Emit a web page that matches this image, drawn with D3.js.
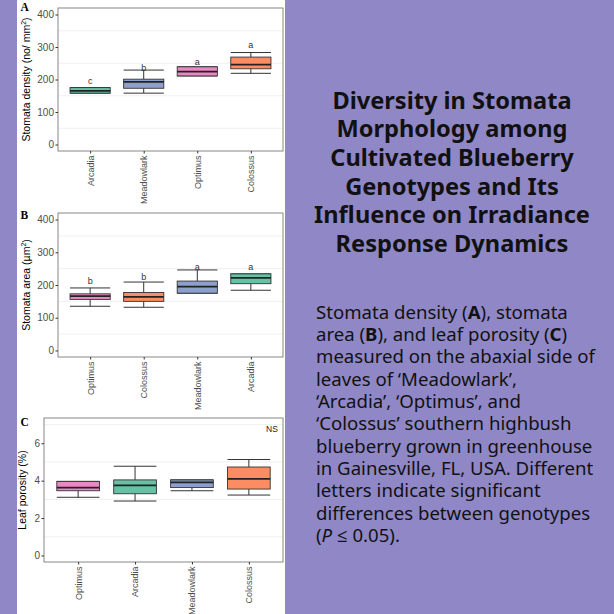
<!DOCTYPE html>
<html><head><meta charset="utf-8">
<script src="https://cdn.jsdelivr.net/npm/d3@7"></script>
<style>html,body{margin:0;padding:0;background:#9088c6;}svg{display:block;}</style>
</head><body>
<svg id="c" width="614" height="614"></svg>
<script>
// ---------- data ----------
const catsA = ["Arcadia","Meadowlark","Optimus","Colossus"];
const loA  = [158, 158, 211, 219];
const q1A  = [158, 173, 211, 233];
const medA = [165, 193, 224, 246];
const q3A  = [175, 201, 239, 269];
const hiA  = [175, 229, 239, 283];
const letA = ["c","b","a","a"];
const letYA = [196, 236, 254, 305];
const ticksA = [0,100,200,300,400];

const catsB = ["Optimus","Colossus","Meadowlark","Arcadia"];
const loB  = [135, 132, 175, 184];
const q1B  = [156, 150, 175, 204];
const medB = [166, 164, 195, 222];
const q3B  = [173, 177, 212, 234];
const hiB  = [191, 209, 246, 234];
const letB = ["b","b","a","a"];
const letYB = [211, 225, 256, 256];
const ticksB = [0,100,200,300,400];

const catsC = ["Optimus","Arcadia","Meadowlark","Colossus"];
const loC  = [3.11, 2.91, 3.46, 3.23];
const q1C  = [3.46, 3.30, 3.63, 3.55];
const medC = [3.63, 3.75, 3.91, 4.09];
const q3C  = [3.96, 4.04, 4.04, 4.73];
const hiC  = [3.96, 4.77, 4.04, 5.13];
const ticksC = [0,2,4,6];

const genotypeColors = {Arcadia:"#66c2a5", Colossus:"#fc8d62", Meadowlark:"#8da0cb", Optimus:"#e78ac3"};

const titleLines = ["Diversity in Stomata","Morphology among","Cultivated Blueberry","Genotypes and Its","Influence on Irradiance","Response Dynamics"];

// ---------- drawing ----------
const svg = d3.select("#c");
svg.append("rect").attr("x",0).attr("y",0).attr("width",614).attr("height",614).attr("fill","#9088c6");
svg.append("rect").attr("x",17).attr("y",0).attr("width",268).attr("height",614).attr("fill","#ffffff");

function panel(opt){
  const {x0,x1,y0,y1,domain,cats,lo,q1,med,q3,hi,letters,letY,ticks,minor,title,label,labelY} = opt;
  const g = svg.append("g");
  // ggplot discrete expansion of 0.6 category units on each side
  const xs = d3.scalePoint().domain(cats).range([x0 + (x1-x0)*0.6/4.2, x1 - (x1-x0)*0.6/4.2]);
  const unit = (x1-x0)/4.2;
  const bw = unit*0.75;
  const y = d3.scaleLinear().domain(domain).range([y1,y0]);
  g.selectAll(".mg").data(minor).join("line")
    .attr("x1",x0).attr("x2",x1).attr("y1",d=>y(d)).attr("y2",d=>y(d))
    .attr("stroke","#ececec").attr("stroke-width",0.8);
  cats.forEach((c,i)=>{
    const cx = xs(c);
    const bg = g.append("g");
    bg.append("line").attr("x1",cx).attr("x2",cx).attr("y1",y(hi[i])).attr("y2",y(q3[i])).attr("stroke","#333").attr("stroke-width",1);
    bg.append("line").attr("x1",cx).attr("x2",cx).attr("y1",y(lo[i])).attr("y2",y(q1[i])).attr("stroke","#333").attr("stroke-width",1);
    bg.append("line").attr("x1",cx-bw/2).attr("x2",cx+bw/2).attr("y1",y(hi[i])).attr("y2",y(hi[i])).attr("stroke","#333").attr("stroke-width",1);
    bg.append("line").attr("x1",cx-bw/2).attr("x2",cx+bw/2).attr("y1",y(lo[i])).attr("y2",y(lo[i])).attr("stroke","#333").attr("stroke-width",1);
    bg.append("rect").attr("x",cx-bw/2).attr("width",bw).attr("y",y(q3[i])).attr("height",y(q1[i])-y(q3[i]))
      .attr("fill",genotypeColors[c]).attr("stroke","#333").attr("stroke-width",0.9);
    bg.append("line").attr("x1",cx-bw/2).attr("x2",cx+bw/2).attr("y1",y(med[i])).attr("y2",y(med[i])).attr("stroke","#222").attr("stroke-width",1.7);
    if(letters){
      g.append("text").attr("x",cx).attr("y",y(letY[i])).attr("text-anchor","middle")
        .attr("dominant-baseline","central").attr("font-family","Liberation Sans, Arial, sans-serif")
        .attr("font-size",9).attr("fill","#333").text(letters[i]);
    }
  });
  g.append("rect").attr("x",x0).attr("y",y0).attr("width",x1-x0).attr("height",y1-y0)
    .attr("fill","none").attr("stroke","#7a7a7a").attr("stroke-width",0.9);
  const ya = g.append("g").attr("transform",`translate(${x0},0)`)
    .call(d3.axisLeft(y).tickValues(ticks).tickSize(2.5).tickPadding(1.5));
  ya.select(".domain").remove();
  ya.selectAll("line").attr("stroke","#333");
  ya.selectAll("text").attr("font-family","Liberation Sans, Arial, sans-serif").attr("font-size",10).attr("fill","#4d4d4d");
  const xa = g.append("g").attr("transform",`translate(0,${y1})`)
    .call(d3.axisBottom(xs).tickSize(2.5).tickPadding(2));
  xa.select(".domain").remove();
  xa.selectAll("line").attr("stroke","#333");
  xa.selectAll("text").attr("font-family","Liberation Sans, Arial, sans-serif").attr("font-size",9).attr("fill","#4d4d4d")
    .attr("transform","rotate(-90)").attr("text-anchor","end").attr("dy","0.32em").attr("x",-4.5).attr("y",0);
  const ty = (y0+y1)/2;
  const tt = g.append("text").attr("transform",`translate(${opt.titleX},${ty}) rotate(-90)`)
    .attr("text-anchor","middle").attr("font-family","Liberation Sans, Arial, sans-serif")
    .attr("font-size",10.5).attr("fill","#000");
  title(tt);
  svg.append("text").attr("x",20.5).attr("y",labelY).attr("font-family","Liberation Serif, Times New Roman, serif")
    .attr("font-weight","bold").attr("font-size",11.5).attr("fill","#000").text(label);
  return {g,y,xs};
}

panel({x0:58,x1:283,y0:8,y1:151,domain:[-20,420],cats:catsA,lo:loA,q1:q1A,med:medA,q3:q3A,hi:hiA,
  letters:letA,letY:letYA,ticks:ticksA,minor:[50,150,250,350],titleX:30,label:"A",labelY:10.5,
  title:t=>{t.append("tspan").text("Stomata density (no/ mm");t.append("tspan").attr("font-size",7).attr("dy",-4).text("2");t.append("tspan").attr("dy",4).text(")");}});

panel({x0:58,x1:283,y0:213,y1:357,domain:[-20,420],cats:catsB,lo:loB,q1:q1B,med:medB,q3:q3B,hi:hiB,
  letters:letB,letY:letYB,ticks:ticksB,minor:[50,150,250,350],titleX:30,label:"B",labelY:218.5,
  title:t=>{t.append("tspan").text("Stomata area (µm");t.append("tspan").attr("font-size",7).attr("dy",-4).text("2");t.append("tspan").attr("dy",4).text(")");}});

const pc = panel({x0:44,x1:283,y0:418,y1:562,domain:[-0.35,7.35],cats:catsC,lo:loC,q1:q1C,med:medC,q3:q3C,hi:hiC,
  letters:null,ticks:ticksC,minor:[1,3,5,7],titleX:26,label:"C",labelY:425.5,
  title:t=>{t.text("Leaf porosity (%)");}});
pc.g.append("text").attr("x",272).attr("y",429).attr("text-anchor","middle").attr("dominant-baseline","central")
  .attr("font-family","Liberation Sans, Arial, sans-serif").attr("font-size",8.5).attr("fill","#222").text("NS");

const tg = svg.append("text").attr("text-anchor","middle").attr("font-family","Noto Sans, Open Sans, sans-serif")
  .attr("font-weight","bold").attr("font-size",23.6).attr("fill","#111");
titleLines.forEach((l,i)=>tg.append("tspan").attr("x",452).attr("y",108.5+i*28.7).text(l));

const capLines = [
  [["Stomata density (",""],["A","b"],["), stomata",""]],
  [["area (",""],["B","b"],["), and leaf porosity (",""],["C","b"],[")",""]],
  [["measured on the abaxial side of",""]],
  [["leaves of \u2018Meadowlark\u2019,",""]],
  [["\u2018Arcadia\u2019, \u2018Optimus\u2019, and",""]],
  [["\u2018Colossus\u2019 southern highbush",""]],
  [["blueberry grown in greenhouse",""]],
  [["in Gainesville, FL, USA. Different",""]],
  [["letters indicate significant",""]],
  [["differences between genotypes",""]],
  [["(",""],["P","i"],[" \u2264 0.05).",""]]
];
const cg = svg.append("text").attr("font-family","Noto Sans, Open Sans, sans-serif").attr("font-size",18.6).attr("fill","#111");
capLines.forEach((parts,i)=>{
  parts.forEach((p,j)=>{
    const ts = cg.append("tspan").text(p[0]);
    if(j===0) ts.attr("x",316).attr("y",318.5+i*22.35);
    if(p[1]==="b") ts.attr("font-weight","bold");
    if(p[1]==="i") ts.attr("font-style","italic");
  });
});
</script>
</body></html>
